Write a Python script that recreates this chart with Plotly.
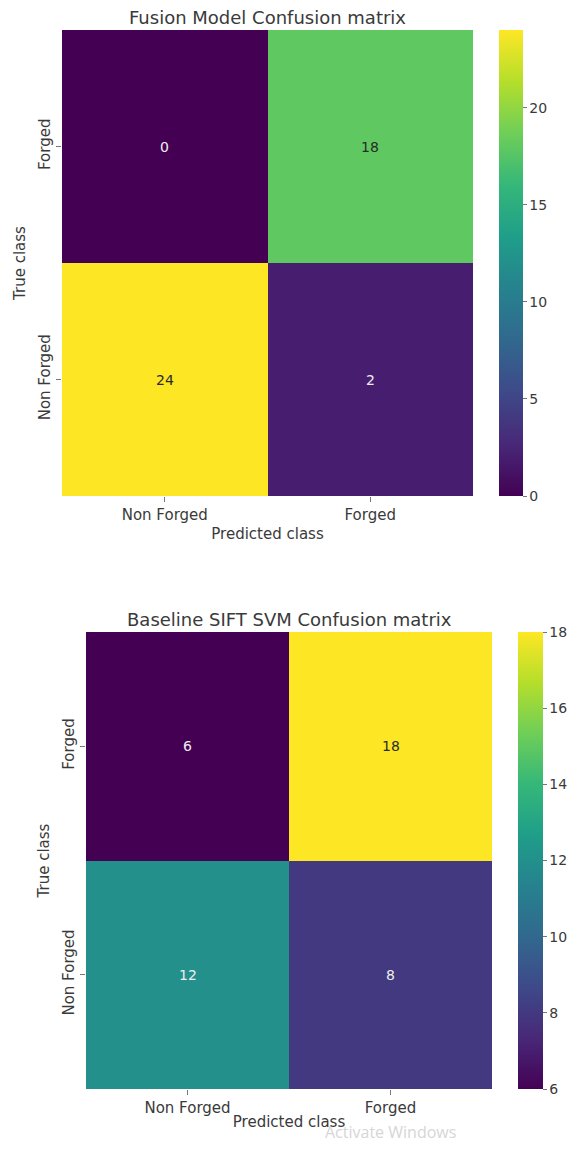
import plotly.graph_objects as go

# ---- data ----
pred_labels = ["Non Forged", "Forged"]
true_labels = ["Forged", "Non Forged"]
fusion_counts = [[0, 18], [24, 2]]
baseline_counts = [[6, 18], [12, 8]]
fusion_title = "Fusion Model Confusion matrix"
baseline_title = "Baseline SIFT SVM Confusion matrix"
fusion_ticks = [0, 5, 10, 15, 20]
baseline_ticks = [6, 8, 10, 12, 14, 16, 18]
watermark = "Activate Windows"

# the page body has an 8px margin; figure sized to fit inside the window
OFF = 8
W, H = 587 - 2 * OFF, 1151 - 2 * OFF
FONT = "DejaVu Sans"
TXT = "#3a3a3a"


def px_x(v):
    return (v - OFF) / W


def px_y(v):
    return 1 - (v - OFF) / H


fig = go.Figure()

panels = [
    dict(z=fusion_counts, title=fusion_title, ticks=fusion_ticks, zmin=0, zmax=24,
         x0=62, x1=473, y0=30, y1=496, cbx=499, cbw=24, ax="", thr=12, ty=18, st=5),
    dict(z=baseline_counts, title=baseline_title, ticks=baseline_ticks, zmin=6, zmax=18,
         x0=86, x1=492, y0=632, y1=1089, cbx=518, cbw=25, ax="2", thr=13, ty=619, st=0),
]

for p in panels:
    xa = "x" + p["ax"]
    ya = "y" + p["ax"]
    fig.add_trace(go.Heatmap(
        z=p["z"], x=pred_labels, y=true_labels,
        colorscale="Viridis", zmin=p["zmin"], zmax=p["zmax"],
        xaxis=xa, yaxis=ya, xgap=0, ygap=0,
        colorbar=dict(
            x=px_x(p["cbx"]), xanchor="left", xpad=0,
            y=px_y(p["y1"]), yanchor="bottom", ypad=0,
            len=(p["y1"] - p["y0"]) / H, lenmode="fraction",
            thickness=p["cbw"], thicknessmode="pixels",
            outlinewidth=0, tickvals=p["ticks"], ticks="outside", ticklen=4,
            tickcolor="#777", tickfont=dict(family=FONT, size=14, color=TXT),
        ),
        hoverinfo="skip",
    ))
    for i, row in enumerate(p["z"]):
        for j, v in enumerate(row):
            fig.add_annotation(
                x=pred_labels[j], y=true_labels[i], xref=xa, yref=ya,
                text=str(v), showarrow=False,
                font=dict(family=FONT, size=14,
                          color="#2a2a2a" if v >= p["thr"] else "#eeeeee"),
            )
    fig.add_annotation(
        x=px_x((p["x0"] + p["x1"]) / 2), y=px_y(p["ty"]), xref="paper", yref="paper",
        xanchor="center", yanchor="middle", text=p["title"], showarrow=False,
        font=dict(family=FONT, size=18, color=TXT),
    )
    key = p["ax"]
    fig.layout["xaxis" + key] = dict(
        domain=[px_x(p["x0"]), px_x(p["x1"])], anchor=ya,
        ticks="outside", ticklen=5, tickcolor="#777", showgrid=False, zeroline=False,
        showline=False, tickfont=dict(family=FONT, size=15, color=TXT),
        title=dict(text="Predicted class", font=dict(family=FONT, size=15, color=TXT),
                   standoff=p["st"]),
    )
    fig.layout["yaxis" + key] = dict(
        domain=[px_y(p["y1"]), px_y(p["y0"])], anchor=xa, autorange="reversed",
        ticks="outside", ticklen=5, tickcolor="#777", showgrid=False, zeroline=False,
        showline=False, tickangle=-90, tickfont=dict(family=FONT, size=15, color=TXT),
        title=dict(text="True class", font=dict(family=FONT, size=15, color=TXT), standoff=6),
    )

fig.add_annotation(
    x=px_x(390), y=0, xref="paper", yref="paper", xanchor="center", yanchor="bottom",
    yshift=-2, text=watermark, showarrow=False,
    font=dict(family="Open Sans", size=16, color="#d6d6d6"),
)

fig.update_layout(
    width=W, height=H, margin=dict(l=0, r=0, t=0, b=0),
    paper_bgcolor="white", plot_bgcolor="white", showlegend=False,
)

fig.write_html("out.html")
